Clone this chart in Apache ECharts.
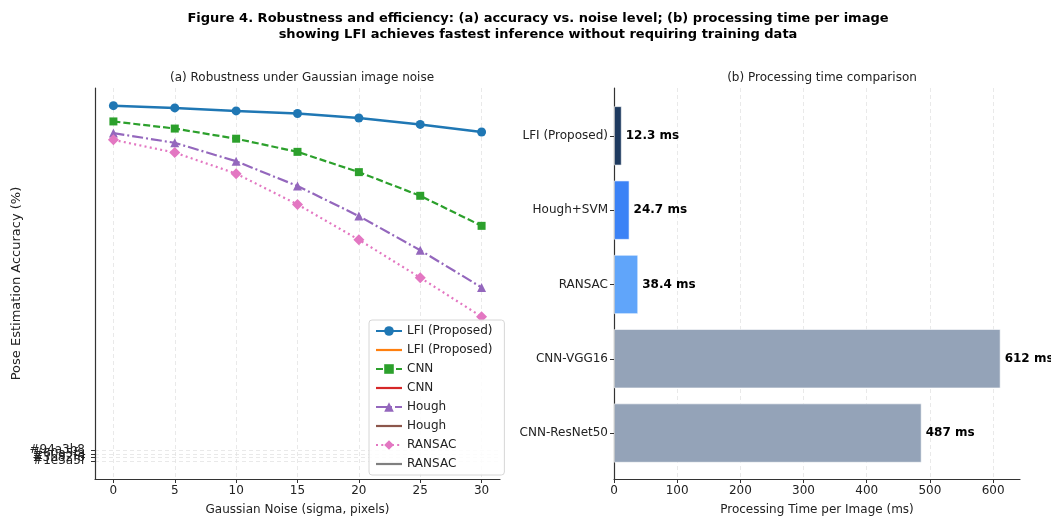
<!DOCTYPE html>
<html>
<head>
<meta charset="utf-8">
<script src="https://cdn.jsdelivr.net/npm/echarts@6/dist/echarts.min.js"></script>
<style>
    html, body { margin: 0; padding: 0; background: #fff; }
    #fig { width: 1051px; height: 521px; }
</style>
</head>
<body>
<div id="fig"></div>
<script>
    // (a) accuracy vs noise
    const noiseLevels = [0, 5, 10, 15, 20, 25, 30]
    const lfiAcc = [94.7, 94.1, 93.3, 92.6, 91.4, 89.7, 87.7]
    const cnnAcc = [90.5, 88.6, 85.9, 82.4, 77.0, 70.7, 62.7]
    const houghAcc = [87.4, 84.8, 79.9, 73.3, 65.3, 56.2, 46.3]
    const ransacAcc = [85.6, 82.2, 76.6, 68.4, 59.0, 48.9, 38.5]
    // stray string ticks that ended up on the accuracy axis
    const colorTags = ['#1e3a5f', '#3b82f6', '#60a5fa', '#94a3b8']
    const noiseTicks = [0, 5, 10, 15, 20, 25, 30]

    // (b) processing time
    const methods = ['LFI (Proposed)', 'Hough+SVM', 'RANSAC', 'CNN-VGG16', 'CNN-ResNet50']
    const timesMs = [12.3, 24.7, 38.4, 612, 487]
    const barColors = ['#1e3a5f', '#3b82f6', '#60a5fa', '#94a3b8', '#94a3b8']
    const timeTicks = [0, 100, 200, 300, 400, 500, 600]

    const font = 'DejaVu Sans'
    const axisColor = '#333'
    const gridLine = {show: true, lineStyle: {color: '#e3e3e3', type: [4, 3], width: 0.8}}
    // plain line legend icon (no marker)
    const plainIcon = 'path://M0,0M26,12M0,4.9H26V7.1H0Z'
    const accMin = -4.7, accMax = 99.4

    let pairs = (ys) => noiseLevels.map((x, i) => [x, ys[i]])
    let tagIdx = colorTags.map((t, i) => i)

    // one overlay axis per stray tag so that overlapping labels are all drawn
    let tagAxes = tagIdx.slice(1).map((k) => ({
        gridIndex: 0, type: 'value', min: accMin, max: accMax, position: 'left',
        axisLine: {show: false}, axisTick: {show: false}, splitLine: {show: false},
        axisLabel: {
            customValues: [k], fontSize: 12, color: '#222', margin: 10,
            showMinLabel: true, showMaxLabel: true,
            formatter: (v) => colorTags[Math.round(v)]
        }
    }))

    let chart = echarts.init(document.getElementById('fig'), null, {renderer: 'canvas'})
    let options = {
        animation: false,
        textStyle: {fontFamily: font, color: '#222'},
        title: [
            {
                text: 'Figure 4. Robustness and efficiency: (a) accuracy vs. noise level; (b) processing time per image\nshowing LFI achieves fastest inference without requiring training data',
                left: 533, top: 6, textAlign: 'center',
                textStyle: {fontFamily: font, fontSize: 13, fontWeight: 'bold', color: '#000', lineHeight: 16}
            },
            {
                text: '(a) Robustness under Gaussian image noise',
                left: 297, top: 67, textAlign: 'center',
                textStyle: {fontFamily: font, fontSize: 12, fontWeight: 'normal', color: '#222'}
            },
            {
                text: '(b) Processing time comparison',
                left: 817, top: 67, textAlign: 'center',
                textStyle: {fontFamily: font, fontSize: 12, fontWeight: 'normal', color: '#222'}
            }
        ],
        legend: {
            orient: 'vertical',
            left: 369, top: 320,
            padding: [5, 8, 5, 6],
            itemWidth: 26, itemHeight: 12, itemGap: 7,
            backgroundColor: 'rgba(255,255,255,0.85)',
            borderColor: '#d6d6d6', borderWidth: 1, borderRadius: 3,
            textStyle: {fontFamily: font, fontSize: 12, color: '#222'},
            data: [
                'LFI (Proposed)', {name: 'LFI (Proposed) ', icon: plainIcon},
                'CNN', {name: 'CNN ', icon: plainIcon},
                'Hough', {name: 'Hough ', icon: plainIcon},
                'RANSAC', {name: 'RANSAC ', icon: plainIcon}
            ]
        },
        grid: [
            {left: 95, right: 551, top: 88, bottom: 40},
            {left: 614, right: 31, top: 88, bottom: 40},
            {left: 614, right: 31, top: 98.7, height: 371.5}
        ],
        xAxis: [
            {
                gridIndex: 0, type: 'value', min: -1.5, max: 31.5,
                name: 'Gaussian Noise (sigma, pixels)', nameLocation: 'middle', nameGap: 25,
                nameTextStyle: {fontSize: 12, color: '#222'},
                axisLine: {onZero: false, lineStyle: {color: axisColor, width: 1.2}},
                axisTick: {customValues: noiseTicks, length: 4, lineStyle: {color: axisColor}},
                axisLabel: {customValues: noiseTicks, fontSize: 12, color: '#222', margin: 6},
                splitLine: gridLine
            },
            {
                gridIndex: 1, type: 'value', min: 0, max: 642.6,
                name: 'Processing Time per Image (ms)', nameLocation: 'middle', nameGap: 25,
                nameTextStyle: {fontSize: 12, color: '#222'},
                axisLine: {onZero: false, lineStyle: {color: axisColor, width: 1.2}},
                axisTick: {customValues: timeTicks, length: 4, lineStyle: {color: axisColor}},
                axisLabel: {customValues: timeTicks, fontSize: 12, color: '#222', margin: 6},
                splitLine: gridLine
            },
            {gridIndex: 2, type: 'value', min: 0, max: 642.6, show: false}
        ],
        yAxis: [
            {
                gridIndex: 0, type: 'value', min: accMin, max: accMax,
                name: 'Pose Estimation Accuracy (%)', nameLocation: 'middle', nameGap: 72,
                nameTextStyle: {fontSize: 13, color: '#222'},
                axisLine: {show: true, onZero: false, lineStyle: {color: axisColor, width: 1.2}},
                axisTick: {show: true, customValues: tagIdx, length: 4, lineStyle: {color: axisColor}},
                axisLabel: {
                    customValues: [0], fontSize: 12, color: '#222', margin: 10,
                    showMinLabel: true, showMaxLabel: true,
                    formatter: (v) => colorTags[Math.round(v)]
                },
                splitLine: gridLine
            },
            {
                gridIndex: 1, type: 'value', min: 0, max: 1,
                axisLine: {show: true, onZero: false, lineStyle: {color: axisColor, width: 1.2}},
                axisTick: {show: false}, axisLabel: {show: false}, splitLine: {show: false}
            },
            {
                gridIndex: 2, type: 'category', inverse: true, data: methods,
                axisLine: {show: false},
                axisTick: {show: true, alignWithLabel: true, length: 4, lineStyle: {color: axisColor}},
                axisLabel: {fontSize: 12, color: '#222', margin: 6}
            },
            ...tagAxes
        ],
        series: [
            {
                name: 'LFI (Proposed)', type: 'line', xAxisIndex: 0, yAxisIndex: 0,
                data: pairs(lfiAcc), color: '#1f77b4',
                symbol: 'circle', symbolSize: 9,
                lineStyle: {width: 2.5, type: 'solid'}
            },
            {name: 'LFI (Proposed) ', type: 'line', xAxisIndex: 0, yAxisIndex: 0, data: [], color: '#ff7f0e', symbol: 'none', lineStyle: {width: 2.5}},
            {
                name: 'CNN', type: 'line', xAxisIndex: 0, yAxisIndex: 0,
                data: pairs(cnnAcc), color: '#2ca02c',
                symbol: 'rect', symbolSize: 8,
                lineStyle: {width: 2.2, type: [7, 3]}
            },
            {name: 'CNN ', type: 'line', xAxisIndex: 0, yAxisIndex: 0, data: [], color: '#d62728', symbol: 'none', lineStyle: {width: 2.2}},
            {
                name: 'Hough', type: 'line', xAxisIndex: 0, yAxisIndex: 0,
                data: pairs(houghAcc), color: '#9467bd',
                symbol: 'triangle', symbolSize: 9,
                lineStyle: {width: 2.2, type: [11, 3, 2, 3]}
            },
            {name: 'Hough ', type: 'line', xAxisIndex: 0, yAxisIndex: 0, data: [], color: '#8c564b', symbol: 'none', lineStyle: {width: 2.2}},
            {
                name: 'RANSAC', type: 'line', xAxisIndex: 0, yAxisIndex: 0,
                data: pairs(ransacAcc), color: '#e377c2',
                symbol: 'diamond', symbolSize: 11,
                lineStyle: {width: 2.2, type: [2, 3.3]}
            },
            {name: 'RANSAC ', type: 'line', xAxisIndex: 0, yAxisIndex: 0, data: [], color: '#7f7f7f', symbol: 'none', lineStyle: {width: 2.2}},
            {
                name: 'time', type: 'bar', xAxisIndex: 2, yAxisIndex: 2,
                barCategoryGap: '20%',
                data: timesMs.map((v, i) => ({value: v, itemStyle: {color: barColors[i], borderColor: 'rgba(255,255,255,0.6)', borderWidth: 1}})),
                label: {
                    show: true, position: 'right', distance: 4,
                    fontFamily: font, fontSize: 12, fontWeight: 'bold', color: '#000',
                    formatter: (p) => p.value + ' ms'
                }
            }
        ]
    }
    chart.setOption(options)
</script>
</body>
</html>
